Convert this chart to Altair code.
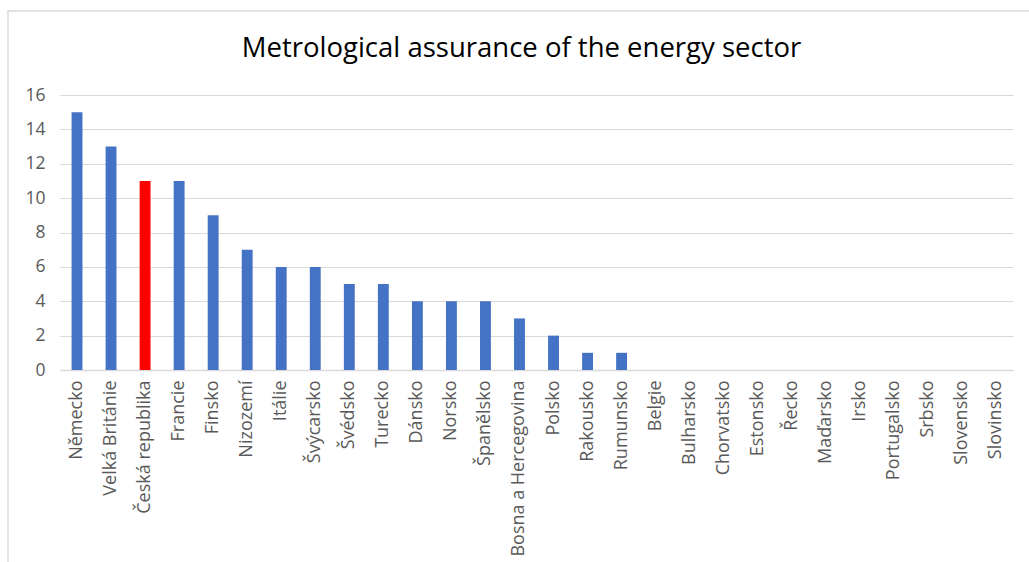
import altair as alt
import pandas as pd

countries = [
    "Německo", "Velká Británie", "Česká republika", "Francie", "Finsko",
    "Nizozemí", "Itálie", "Švýcarsko", "Švédsko", "Turecko", "Dánsko",
    "Norsko", "Španělsko", "Bosna a Hercegovina", "Polsko", "Rakousko",
    "Rumunsko", "Belgie", "Bulharsko", "Chorvatsko", "Estonsko", "Řecko",
    "Maďarsko", "Irsko", "Portugalsko", "Srbsko", "Slovensko", "Slovinsko",
]
counts = [15, 13, 11, 11, 9, 7, 6, 6, 5, 5, 4, 4, 4, 3, 2, 1, 1,
          0, 0, 0, 0, 0, 0, 0, 0, 0, 0, 0]
highlight = "Česká republika"

df = pd.DataFrame({"country": countries, "count": counts})
df["group"] = ["highlight" if c == highlight else "other" for c in countries]

FONT = "Open Sans"

bars = alt.Chart(df).mark_bar().encode(
    x=alt.X("country:N", sort=countries, title=None,
            scale=alt.Scale(paddingInner=0.68, paddingOuter=0.34),
            axis=alt.Axis(labelAngle=-90, labelAlign="right", labelBaseline="middle",
                          labelPadding=10, ticks=False, domain=True,
                          domainColor="#d9d9d9", domainWidth=1.5,
                          labelColor="#595959", labelFontSize=18, labelFont=FONT,
                          labelLimit=300, grid=False)),
    y=alt.Y("count:Q", title=None,
            scale=alt.Scale(domain=[0, 16], nice=False),
            axis=alt.Axis(values=list(range(0, 17, 2)), ticks=False, domain=False,
                          labelPadding=15, labelColor="#595959", labelFontSize=17.5,
                          labelFont=FONT, gridColor="#d9d9d9", gridWidth=1.2)),
    color=alt.Color("group:N", legend=None,
                    scale=alt.Scale(domain=["highlight", "other"],
                                    range=["#ff0000", "#4472c4"])),
)

# thin outline around the whole chart
frame = alt.Chart(pd.DataFrame({"k": [0]})).mark_rect(
    fill=None, stroke="#d9d9d9", strokeWidth=1.5
).encode(
    x=alt.value(-52), x2=alt.value(990),
    y=alt.value(-84), y2=alt.value(490),
)

chart = alt.layer(frame, bars).properties(
    width=953,
    height=275,
    padding={"left": 60, "top": 95, "right": 16, "bottom": 192},
    autosize=alt.AutoSizeParams(type="none"),
    title=alt.TitleParams("Metrological assurance of the energy sector",
                          font=FONT, fontSize=27.5, fontWeight="normal",
                          color="#000000", anchor="middle", dx=-15,
                          offset=0, dy=52),
).configure_view(stroke=None)

chart.save("out.html", embed_options={"renderer": "svg", "actions": False})
